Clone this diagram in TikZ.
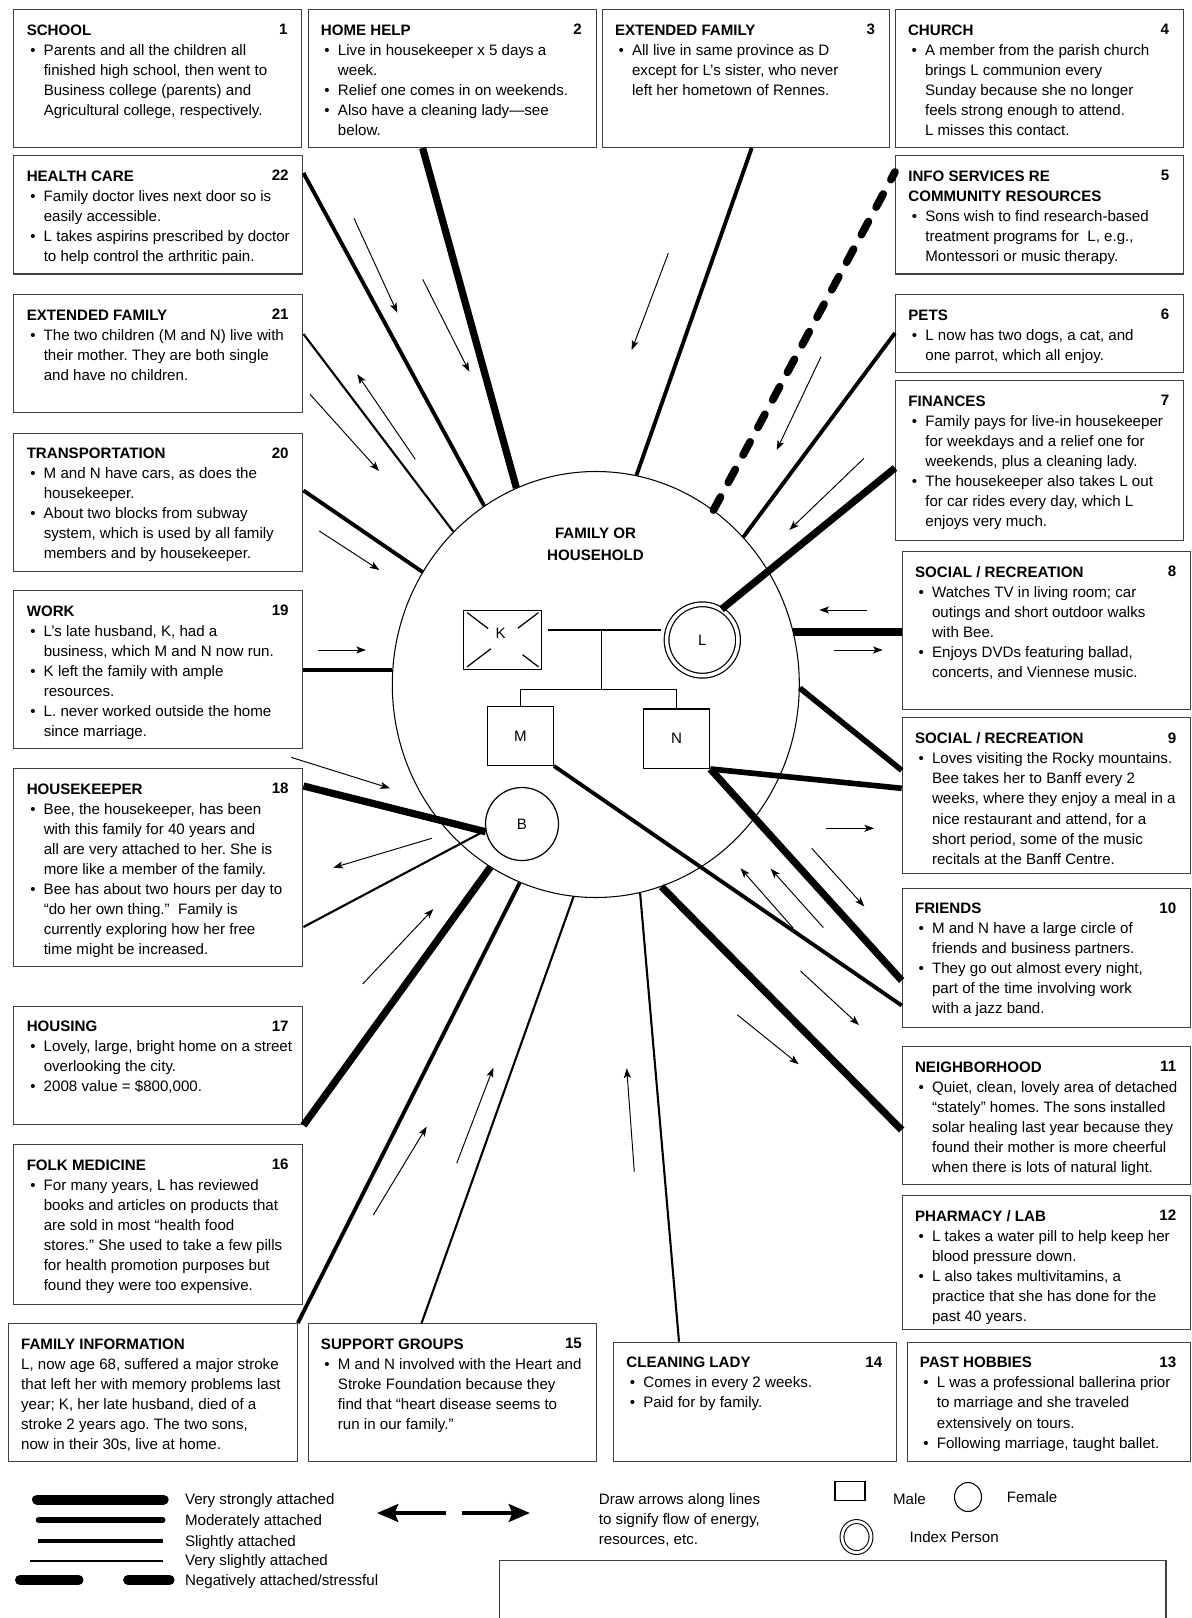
\documentclass[tikz,border=0pt]{standalone}
\usepackage{fontspec}
\setmainfont{Liberation Sans}
\usetikzlibrary{calc}
\usetikzlibrary{positioning}
\usetikzlibrary{arrows.meta}
\usetikzlibrary{shapes.geometric}
\newlength{\pxu}
\setlength{\pxu}{0.02cm}
\newcommand{\bitem}{\hspace*{3.5\pxu}\makebox[13.5\pxu][l]{\textbullet}}
\newcommand{\bcont}{\hspace*{17\pxu}}
\frenchspacing

\begin{document}
\begin{tikzpicture}[x=0.02cm, y=-0.02cm, font=\fontsize{8.6}{11.4}\selectfont,
	ebox/.style 2 args={draw=black!75, line width=0.6pt, inner sep=0pt, anchor=north west, minimum width=#1*\pxu, minimum height=#2*\pxu},
	btext/.style={anchor=north west, align=left, inner sep=0pt},
	bnum/.style={anchor=base east, inner sep=0pt, font=\fontsize{8.6}{11.4}\selectfont\bfseries},
	vstrongtie/.style={line width=4.1pt},
	strongtie/.style={line width=3.2pt},
	modtie/.style={line width=2.2pt},
	slighttie/.style={line width=1.2pt},
	stresstie/.style={line width=4.4pt, dash pattern=on 8.5pt off 9.29pt, line cap=round},
	flow/.style={line width=0.55pt, -{Stealth[length=5.5pt, width=4pt, inset=1.3pt]}},
	famline/.style={line width=0.7pt},
	member/.style={draw, line width=0.7pt, inner sep=0pt},
	keytext/.style={anchor=base west, inner sep=0pt}]
				\useasboundingbox (0,0) rectangle (1191,1618);

				\node[ebox={288}{138}] (school) at (13.4,9) {};
				\node[btext] (schooltx) at ($(school.north west)+(13,15.3)$) {\textbf{SCHOOL}\\
					\bitem Parents and all the children all\\
					\bcont finished high school, then went to\\
					\bcont Business college (parents) and\\
					\bcont Agricultural college, respectively.};
				\node[bnum] (schoolno) at ($(school.north east)+(-14.5,25.7)$) {1};

				\node[ebox={288}{138}] (homehelp) at (307.6,9) {};
				\node[btext] (homehelptx) at ($(homehelp.north west)+(13,15.3)$) {\textbf{HOME HELP}\\
					\bitem Live in housekeeper x 5 days a\\
					\bcont week.\\
					\bitem Relief one comes in on weekends.\\
					\bitem Also have a cleaning lady—see\\
					\bcont below.};
				\node[bnum] (homehelpno) at ($(homehelp.north east)+(-14.5,25.7)$) {2};

				\node[ebox={287}{138}] (extfam) at (601.7,9) {};
				\node[btext] (extfamtx) at ($(extfam.north west)+(13,15.3)$) {\textbf{EXTENDED FAMILY}\\
					\bitem All live in same province as D\\
					\bcont except for L’s sister, who never\\
					\bcont left her hometown of Rennes.};
				\node[bnum] (extfamno) at ($(extfam.north east)+(-14.5,25.7)$) {3};

				\node[ebox={288}{138}] (church) at (894.7,9) {};
				\node[btext] (churchtx) at ($(church.north west)+(13,15.3)$) {\textbf{CHURCH}\\
					\bitem A member from the parish church\\
					\bcont brings L communion every\\
					\bcont Sunday because she no longer\\
					\bcont feels strong enough to attend.\\
					\bcont L misses this contact.};
				\node[bnum] (churchno) at ($(church.north east)+(-14.5,25.7)$) {4};

				\node[ebox={289}{118.5}] (health) at (13.4,155) {};
				\node[btext] (healthtx) at ($(health.north west)+(13,15.3)$) {\textbf{HEALTH CARE}\\
					\bitem Family doctor lives next door so is\\
					\bcont easily accessible.\\
					\bitem L takes aspirins prescribed by doctor\\
					\bcont to help control the arthritic pain.};
				\node[bnum] (healthno) at ($(health.north east)+(-14.5,25.7)$) {22};

				\node[ebox={289}{118}] (extfamtwo) at (13.4,294) {};
				\node[btext] (extfamtwotx) at ($(extfamtwo.north west)+(13,15.3)$) {\textbf{EXTENDED FAMILY}\\
					\bitem The two children (M and N) live with\\
					\bcont their mother. They are both single\\
					\bcont and have no children.};
				\node[bnum] (extfamtwono) at ($(extfamtwo.north east)+(-14.5,25.7)$) {21};

				\node[ebox={289}{138}] (transport) at (13.4,432.5) {};
				\node[btext] (transporttx) at ($(transport.north west)+(13,15.3)$) {\textbf{TRANSPORTATION}\\
					\bitem M and N have cars, as does the\\
					\bcont housekeeper.\\
					\bitem About two blocks from subway\\
					\bcont system, which is used by all family\\
					\bcont members and by housekeeper.};
				\node[bnum] (transportno) at ($(transport.north east)+(-14.5,25.7)$) {20};

				\node[ebox={289}{158}] (work) at (13.4,590) {};
				\node[btext] (worktx) at ($(work.north west)+(13,15.3)$) {\textbf{WORK}\\
					\bitem L’s late husband, K, had a\\
					\bcont business, which M and N now run.\\
					\bitem K left the family with ample\\
					\bcont resources.\\
					\bitem L. never worked outside the home\\
					\bcont since marriage.};
				\node[bnum] (workno) at ($(work.north east)+(-14.5,25.7)$) {19};

				\node[ebox={289}{197.7}] (housekeeper) at (13.4,768) {};
				\node[btext] (housekeepertx) at ($(housekeeper.north west)+(13,15.3)$) {\textbf{HOUSEKEEPER}\\
					\bitem Bee, the housekeeper, has been\\
					\bcont with this family for 40 years and\\
					\bcont all are very attached to her. She is\\
					\bcont more like a member of the family.\\
					\bitem Bee has about two hours per day to\\
					\bcont “do her own thing.”\ \ Family is\\
					\bcont currently exploring how her free\\
					\bcont time might be increased.};
				\node[bnum] (housekeeperno) at ($(housekeeper.north east)+(-14.5,25.7)$) {18};

				\node[ebox={289}{118.8}] (housing) at (13.4,1005.5) {};
				\node[btext] (housingtx) at ($(housing.north west)+(13,15.3)$) {\textbf{HOUSING}\\
					\bitem Lovely, large, bright home on a street\\
					\bcont overlooking the city.\\
					\bitem 2008 value = \$800,000.};
				\node[bnum] (housingno) at ($(housing.north east)+(-14.5,25.7)$) {17};

				\node[ebox={289}{159.5}] (folkmed) at (13.4,1144) {};
				\node[btext] (folkmedtx) at ($(folkmed.north west)+(13,15.3)$) {\textbf{FOLK MEDICINE}\\
					\bitem For many years, L has reviewed\\
					\bcont books and articles on products that\\
					\bcont are sold in most “health food\\
					\bcont stores.” She used to take a few pills\\
					\bcont for health promotion purposes but\\
					\bcont found they were too expensive.};
				\node[bnum] (folkmedno) at ($(folkmed.north east)+(-14.5,25.7)$) {16};

				\node[ebox={288.5}{138}] (faminfo) at (8.3,1323) {};
				\node[btext] (faminfotx) at ($(faminfo.north west)+(12.5,15.3)$) {\textbf{FAMILY INFORMATION}\\
					L, now age 68, suffered a major stroke\\
					that left her with memory problems last\\
					year; K, her late husband, died of a\\
					stroke 2 years ago. The two sons,\\
					now in their 30s, live at home.};

				\node[ebox={288}{138}] (support) at (307.6,1323) {};
				\node[btext] (supporttx) at ($(support.north west)+(13,15.3)$) {\textbf{SUPPORT GROUPS}\\
					\bitem M and N involved with the Heart and\\
					\bcont Stroke Foundation because they\\
					\bcont find that “heart disease seems to\\
					\bcont run in our family.”};
				\node[bnum] (supportno) at ($(support.north east)+(-14.5,25.7)$) {15};

				\node[ebox={283}{119.3}] (cleaning) at (613,1341.7) {};
				\node[btext] (cleaningtx) at ($(cleaning.north west)+(13,15.3)$) {\textbf{CLEANING LADY}\\
					\bitem Comes in every 2 weeks.\\
					\bitem Paid for by family.};
				\node[bnum] (cleaningno) at ($(cleaning.north east)+(-14.5,25.7)$) {14};

				\node[ebox={283.5}{119.3}] (hobbies) at (906.5,1341.7) {};
				\node[btext] (hobbiestx) at ($(hobbies.north west)+(13,15.3)$) {\textbf{PAST HOBBIES}\\
					\bitem L was a professional ballerina prior\\
					\bcont to marriage and she traveled\\
					\bcont extensively on tours.\\
					\bitem Following marriage, taught ballet.};
				\node[bnum] (hobbiesno) at ($(hobbies.north east)+(-14.5,25.7)$) {13};

				\node[ebox={288}{118.5}] (infoserv) at (895,155) {};
				\node[btext] (infoservtx) at ($(infoserv.north west)+(13,15.3)$) {\textbf{INFO SERVICES RE}\\
					\textbf{COMMUNITY RESOURCES}\\
					\bitem Sons wish to find research-based\\
					\bcont treatment programs for\ \ L, e.g.,\\
					\bcont Montessori or music therapy.};
				\node[bnum] (infoservno) at ($(infoserv.north east)+(-14.5,25.7)$) {5};

				\node[ebox={288}{78}] (pets) at (895,294) {};
				\node[btext] (petstx) at ($(pets.north west)+(13,15.3)$) {\textbf{PETS}\\
					\bitem L now has two dogs, a cat, and\\
					\bcont one parrot, which all enjoy.};
				\node[bnum] (petsno) at ($(pets.north east)+(-14.5,25.7)$) {6};

				\node[ebox={288}{159.5}] (finances) at (895,380) {};
				\node[btext] (financestx) at ($(finances.north west)+(13,15.3)$) {\textbf{FINANCES}\\
					\bitem Family pays for live-in housekeeper\\
					\bcont for weekdays and a relief one for\\
					\bcont weekends, plus a cleaning lady.\\
					\bitem The housekeeper also takes L out\\
					\bcont for car rides every day, which L\\
					\bcont enjoys very much.};
				\node[bnum] (financesno) at ($(finances.north east)+(-14.5,25.7)$) {7};

				\node[ebox={288.3}{158}] (socialA) at (901.7,551) {};
				\node[btext] (socialAtx) at ($(socialA.north west)+(13,15.3)$) {\textbf{SOCIAL / RECREATION}\\
					\bitem Watches TV in living room; car\\
					\bcont outings and short outdoor walks\\
					\bcont with Bee.\\
					\bitem Enjoys DVDs featuring ballad,\\
					\bcont concerts, and Viennese music.};
				\node[bnum] (socialAno) at ($(socialA.north east)+(-14.5,25.7)$) {8};

				\node[ebox={288.3}{155.2}] (socialB) at (901.7,717.3) {};
				\node[btext] (socialBtx) at ($(socialB.north west)+(13,15.3)$) {\textbf{SOCIAL / RECREATION}\\
					\bitem Loves visiting the Rocky mountains.\\
					\bcont Bee takes her to Banff every 2\\
					\bcont weeks, where they enjoy a meal in a\\
					\bcont nice restaurant and attend, for a\\
					\bcont short period, some of the music\\
					\bcont recitals at the Banff Centre.};
				\node[bnum] (socialBno) at ($(socialB.north east)+(-14.5,25.7)$) {9};

				\node[ebox={288.3}{139.5}] (friends) at (901.7,887.5) {};
				\node[btext] (friendstx) at ($(friends.north west)+(13,15.3)$) {\textbf{FRIENDS}\\
					\bitem M and N have a large circle of\\
					\bcont friends and business partners.\\
					\bitem They go out almost every night,\\
					\bcont part of the time involving work\\
					\bcont with a jazz band.};
				\node[bnum] (friendsno) at ($(friends.north east)+(-14.5,25.7)$) {10};

				\node[ebox={288.3}{137.5}] (neighbor) at (901.7,1046) {};
				\node[btext] (neighbortx) at ($(neighbor.north west)+(13,15.3)$) {\textbf{NEIGHBORHOOD}\\
					\bitem Quiet, clean, lovely area of detached\\
					\bcont “stately” homes. The sons installed\\
					\bcont solar healing last year because they\\
					\bcont found their mother is more cheerful\\
					\bcont when there is lots of natural light.};
				\node[bnum] (neighborno) at ($(neighbor.north east)+(-14.5,25.7)$) {11};

				\node[ebox={288.3}{133.5}] (pharmacy) at (901.7,1195) {};
				\node[btext] (pharmacytx) at ($(pharmacy.north west)+(13,15.3)$) {\textbf{PHARMACY / LAB}\\
					\bitem L takes a water pill to help keep her\\
					\bcont blood pressure down.\\
					\bitem L also takes multivitamins, a\\
					\bcont practice that she has done for the\\
					\bcont past 40 years.};
				\node[bnum] (pharmacyno) at ($(pharmacy.north east)+(-14.5,25.7)$) {12};

				\node[draw, ellipse, line width=0.6pt, inner sep=0pt, minimum width=407*\pxu, minimum height=426*\pxu] (fam) at (595.8,684.5) {};
				\node[align=center, font=\fontsize{8.6}{12.4}\selectfont\bfseries] (famlbl) at (595.5,544.2) {FAMILY OR\\HOUSEHOLD};

				\node[member, minimum width=78*\pxu, minimum height=59*\pxu] (K) at (502.8,639.7) {};
				\node[inner sep=0pt] (Klbl) at (500.7,633.3) {K};
				\node[member, circle, double, double distance=2pt, minimum size=71.4*\pxu] (L) at (702.3,640) {L};
				\node[member, minimum width=66*\pxu, minimum height=58.6*\pxu] (M) at (520.3,736) {M};
				\node[member, minimum width=66.4*\pxu, minimum height=59.3*\pxu] (N) at (676.5,738.7) {N};
				\node[member, circle, minimum size=73*\pxu] (B) at (522,824) {B};

				\draw[famline] ($(K.north west)!0.1!(K.center)$) -- ($(K.north west)!0.63!(K.center)$);
				\draw[famline] ($(K.north east)!0.1!(K.center)$) -- ($(K.north east)!0.62!(K.center)$);
				\draw[famline] ($(K.south west)!0.1!(K.center)$) -- ($(K.south west)!0.7!(K.center)$);
				\draw[famline] ($(K.south east)!0.1!(K.center)$) -- ($(K.south east)!0.5!(K.center)$);

				\coordinate (mar) at (601.7,630);
				\coordinate (sib) at (601.7,689.3);
				\draw[famline, shorten <=3.2pt, shorten >=2.8pt] (mar -| K.east) -- (mar -| L.west);
				\draw[famline] (mar) -- (sib);
				\draw[famline] (M.north) |- (sib) -| (N.north);

				\draw[vstrongtie] (fam.112) -- ($(homehelp.south west)+(115,0)$);
				\draw[modtie] (fam.79) -- ($(extfam.south west)+(150,0)$);
				\draw[stresstie] (fam.56) -- ($(infoserv.north west)+(0,17)$);
				\draw[modtie] (fam.45) -- ($(pets.north west)+(0,39)$);
				\draw[vstrongtie] (L.58) -- ($(finances.north west)+(0,88)$);
				\draw[vstrongtie, line width=4.6pt] (fam.15) -- (fam.15 -| socialA.west);
				\draw[strongtie] (fam.359) -- ($(socialB.north west)+(0,53)$);
				\draw[strongtie] (N.south east) -- ($(socialB.north west)+(0,71)$);
				\draw[vstrongtie] (N.south east) -- ($(friends.north west)+(0,93)$);
				\draw[modtie] (M.south east) -- ($(friends.north west)+(0,118)$);
				\draw[vstrongtie] (fam.288) -- ($(neighbor.north west)+(0,84)$);
				\draw[slighttie] (fam.282) -- ($(cleaning.north west)+(66,0)$);
				\draw[slighttie] (fam.264) -- ($(support.north west)+(114,0)$);
				\draw[modtie] (fam.249) -- (faminfo.north east);
				\draw[vstrongtie] (fam.240) -- (housing.south east);
				\draw[vstrongtie] (B.192) -- ($(housekeeper.north east)+(0,18)$);
				\draw[slighttie] (B.190) -- ($(housekeeper.north east)+(0,159)$);
				\draw[modtie] (fam.176) -- (fam.176 -| work.east);
				\draw[modtie] (fam.147) -- ($(transport.north east)+(0,58)$);
				\draw[slighttie] (fam.133) -- ($(extfamtwo.north east)+(0,40)$);
				\draw[modtie] (fam.122) -- ($(health.north east)+(0,18)$);

				\draw[flow] (354,218.3) -- (397.3,312.7);
				\draw[flow] (422.7,279.3) -- (469.3,371.7);
				\draw[flow] (415.3,459.3) -- (357.3,374.3);
				\draw[flow] (310,394.3) -- (379,471);
				\draw[flow] (319.3,531) -- (379.3,570);
				\draw[flow] (317.7,650) -- (366,650);
				\draw[flow] (291,757.3) -- (390,788.3);
				\draw[flow] (431.7,838.3) -- (333.3,867.7);
				\draw[flow] (362.7,984) -- (433.3,909);
				\draw[flow] (373.3,1215) -- (426.7,1126.7);
				\draw[flow] (456.7,1163.3) -- (493.3,1067.7);
				\draw[flow] (634.3,1171.7) -- (626.7,1068.3);
				\draw[flow] (668.3,253.3) -- (631.7,350);
				\draw[flow] (821,356.7) -- (776.7,450);
				\draw[flow] (864,458.3) -- (789.3,530);
				\draw[flow] (866.7,610) -- (819.3,610);
				\draw[flow] (834.3,650) -- (882.7,650);
				\draw[flow] (826,828.3) -- (874,828.3);
				\draw[flow] (811.7,848.3) -- (864.3,906.5);
				\draw[flow] (793.3,928.3) -- (740.5,868.3);
				\draw[flow] (823.3,927.5) -- (770.7,868.8);
				\draw[flow] (800.5,971) -- (859,1025);
				\draw[flow] (737.3,1014.8) -- (798.7,1064.3);

				\draw[line width=5.7pt, line cap=round] (37,1499.5) -- (163.6,1499.5);
				\draw[line width=3.4pt, line cap=round] (38.7,1520) -- (162.5,1520);
				\draw[line width=2pt] (38,1541) -- (163,1541);
				\draw[line width=0.75pt] (30,1561) -- (163,1561);
				\draw[line width=5.7pt, line cap=round, dash pattern=on 33.3pt off 28.2pt] (20,1580) -- (169.6,1580);
				\node[keytext] (keyvs) at (184.7,1504.7) {Very strongly attached};
				\node[keytext] (keymod) at (184.7,1525.3) {Moderately attached};
				\node[keytext] (keysl) at (184.7,1546) {Slightly attached};
				\node[keytext] (keyvsl) at (184.7,1565.6) {Very slightly attached};
				\node[keytext] (keyneg) at (184.7,1585.2) {Negatively attached/stressful};

				\draw[line width=2.8pt, -{Stealth[length=12pt, width=10pt, inset=2pt]}] (446,1513) -- (377,1513);
				\draw[line width=2.8pt, -{Stealth[length=12pt, width=10pt, inset=2pt]}] (462,1513) -- (530,1513);
				\node[anchor=north west, align=left, inner sep=0pt] (arrownote) at (598.6,1493.6) {Draw arrows along lines\\to signify flow of energy,\\resources, etc.};

				\node[draw, line width=0.6pt, inner sep=0pt, minimum width=30*\pxu, minimum height=19*\pxu] (malekey) at (850,1491) {};
				\node[keytext] (maletx) at (892.7,1504.7) {Male};
				\node[draw, ellipse, line width=0.6pt, inner sep=0pt, minimum width=27*\pxu, minimum height=29*\pxu] (femalekey) at (968,1497) {};
				\node[inner sep=0pt, right=14pt of femalekey] (femaletx) {Female};
				\node[draw, ellipse, double, double distance=1.6pt, line width=0.6pt, inner sep=0pt, minimum width=29*\pxu, minimum height=31*\pxu] (indexkey) at (856.5,1537) {};
				\node[inner sep=0pt, right=21.5pt of indexkey] (indextx) {Index Person};

				\draw[draw=black!75, line width=0.6pt] (499.5,1618) |- (1166,1560.4) -- (1166,1618);
			\end{tikzpicture}
\end{document}
